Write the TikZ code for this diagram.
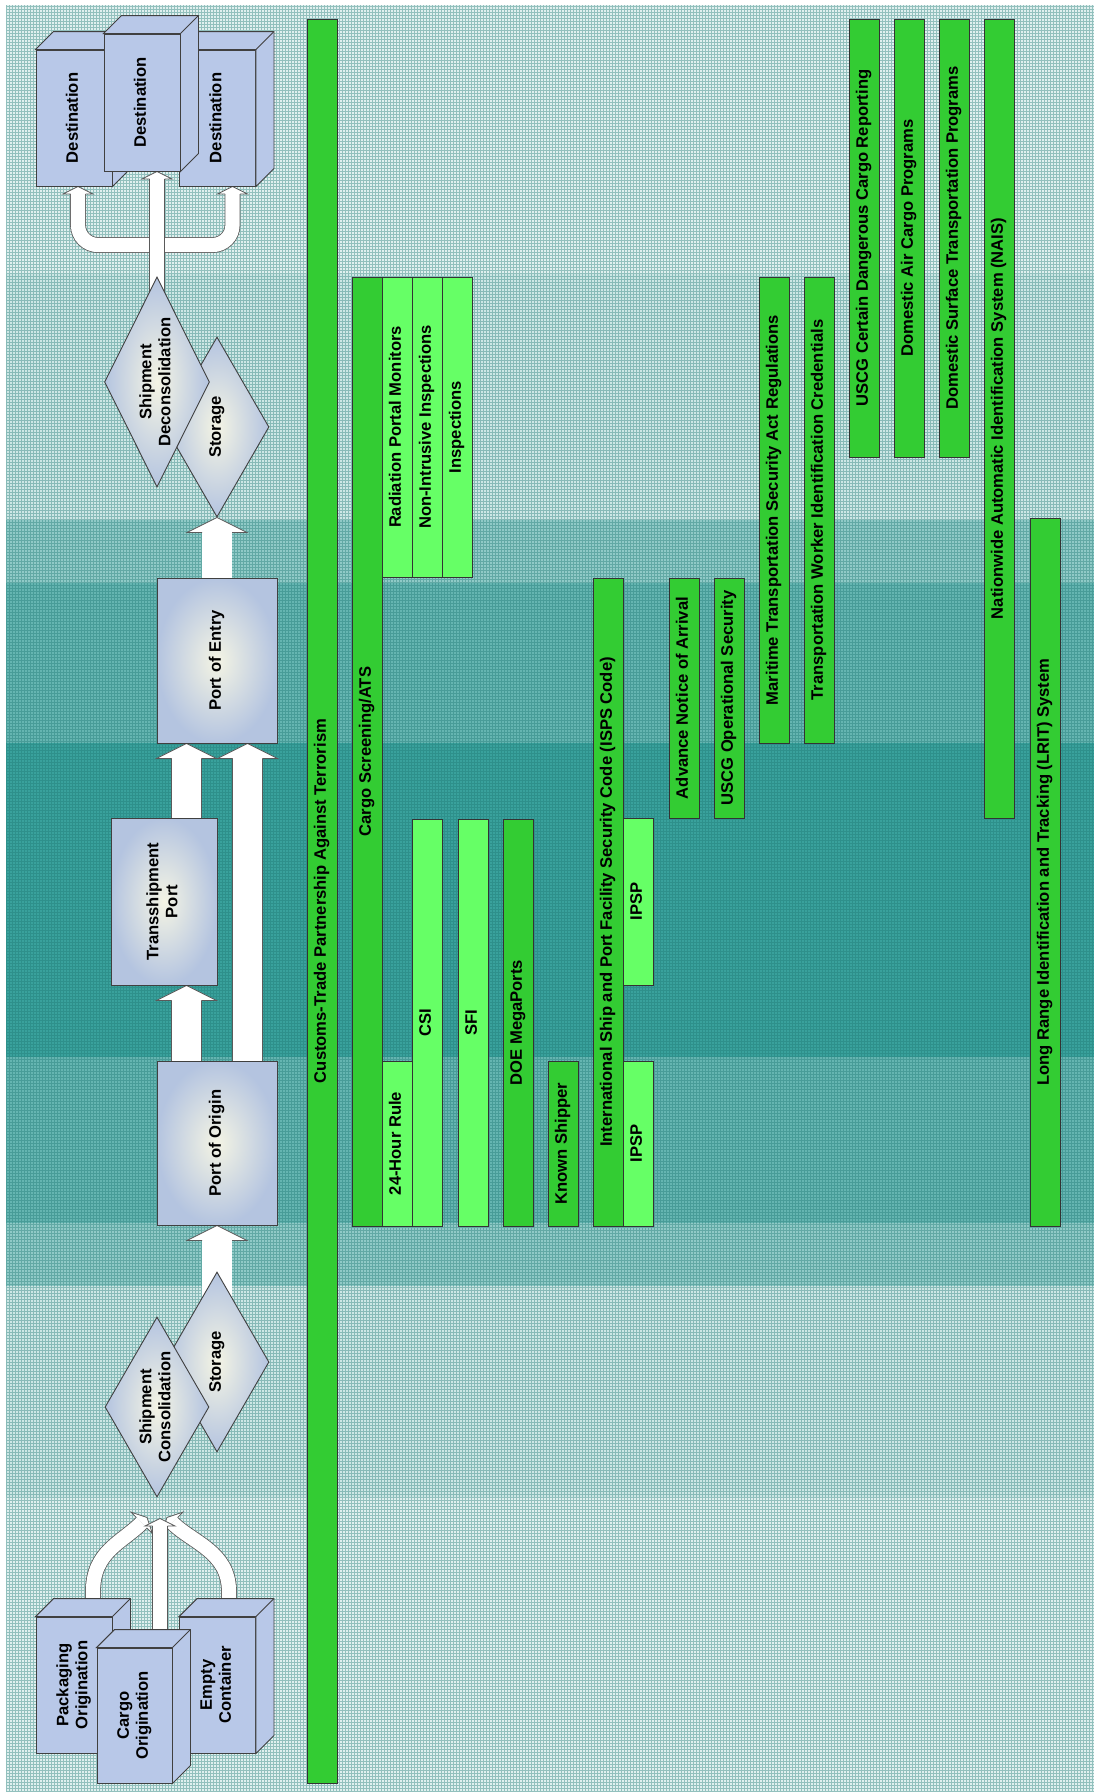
\documentclass[tikz,border=0pt]{standalone}
\usepackage{fontspec}
\setmainfont{Liberation Sans}
\usepackage{graphicx}
\usepackage{tikz}
\usetikzlibrary{calc, shapes.geometric}
\pgfdeclarelayer{paper}
\pgfdeclarelayer{flow}
\pgfsetlayers{paper,flow,main}
\definecolor{tealbg}{RGB}{14,140,134}
\definecolor{tealline}{RGB}{30,120,115}
\definecolor{bardark}{RGB}{51,204,51}
\definecolor{barlight}{RGB}{102,255,102}
\definecolor{crateblue}{RGB}{184,200,232}
\definecolor{steelblue}{RGB}{180,196,224}
\definecolor{paleyellow}{RGB}{244,244,228}
\definecolor{arrowgray}{RGB}{90,90,90}
\newcommand{\vtext}[1]{\rotatebox{90}{\begin{tabular}{@{}c@{}}#1\end{tabular}}}
\newcommand{\cratefaces}[1]{%
  \draw[crate] (#1.north west) -- ++(18,-18) -- ($(#1.north east)+(18,-18)$)
    -- ($(#1.south east)+(18,-18)$) -- (#1.south east) -- (#1.north east) -- cycle;
  \draw[crate] (#1.north east) -- ++(18,-18);}

\begin{document}
\begin{tikzpicture}[x=1pt, y=-1pt,
    font=\fontsize{16.6}{19}\selectfont\bfseries,
    crate/.style={draw=black!75, fill=crateblue, line width=0.9pt},
    cratefront/.style={crate, inner sep=0pt, minimum width=76pt, minimum height=136pt},
    flowbox/.style={draw=black!75, line width=0.9pt, inner sep=0pt,
                    inner color=paleyellow, outer color=steelblue},
    dia/.style={diamond, aspect=0.5, draw=black!75, line width=0.9pt, inner sep=-8pt,
                inner color=paleyellow, outer color=steelblue, minimum width=104pt},
    bar/.style={draw=black!80, line width=0.9pt, inner sep=0pt, minimum width=30pt},
    darkbar/.style={bar, fill=bardark},
    lightbar/.style={bar, fill=barlight},
    fatshaft/.style={draw=arrowgray, line width=0.8pt, double=white, double distance=29.2pt},
    thinshaft/.style={fatshaft, double distance=14.2pt},
    fathead/.pic={\path[fill=white, draw=arrowgray, line width=0.8pt]
       (-15,15) -- (-30,15) -- (0,0) -- (30,15) -- (15,15);}
  ]
  \useasboundingbox (0,0) rectangle (1094,1792);

  % paper with the bands
  \begin{pgfonlayer}{paper}
    \fill[white] (0,0) rectangle (1094,1792);
    \foreach \ya/\yb/\pc in {5/274/13, 274/520/21, 520/583/46, 583/743/64, 743/1057/82,
                             1057/1223/64, 1223/1286/46, 1286/1497/21, 1497/1792/13}
      \fill[tealbg!\pc!white] (6,\ya) rectangle (1094,\yb);
    \draw[tealline, opacity=0.4, line width=0.6pt] (6,1792) grid[step=3pt] (1094,5);
  \end{pgfonlayer}

  % shipping chain
  \node[dia, minimum height=180pt] (storeUp) at (217,427) {\vtext{Storage}};
  \node[dia, minimum width=105pt, minimum height=210pt] (decon) at (157,382) {\vtext{Shipment\\Deconsolidation}};
  \node[dia, minimum height=180pt] (storeLow) at (217,1362) {\vtext{Storage}};
  \node[dia, minimum height=180pt] (consol) at (157,1407) {\vtext{Shipment\\Consolidation}};

  \node[flowbox, minimum width=120pt, minimum height=165pt] (entry) at (217,660.5) {\vtext{Port of Entry}};
  \node[flowbox, minimum width=106pt, minimum height=167pt] (trans) at (164,901.5) {\vtext{Transshipment\\Port}};
  \node[flowbox, minimum width=120pt, minimum height=164pt] (origin) at (217,1143) {\vtext{Port of Origin}};

  \node[cratefront] (destL) at (74,118) {\vtext{Destination}};
  \cratefaces{destL}
  \node[cratefront] (destR) at (217.5,118) {\vtext{Destination}};
  \cratefaces{destR}
  \node[cratefront, minimum height=137pt] (destM) at (142,102.5) {\vtext{Destination}};
  \cratefaces{destM}

  \node[cratefront] (pack) at (74,1685) {\vtext{Packaging\\Origination}};
  \cratefaces{pack}
  \node[cratefront] (empty) at (217.5,1685) {\vtext{Empty\\Container}};
  \cratefaces{empty}
  \node[cratefront, minimum width=75pt, minimum height=135pt] (cargo) at (134.5,1715.5) {\vtext{Cargo\\Origination}};
  \cratefaces{cargo}

  % broad arrows
  \begin{pgfonlayer}{flow}
    \draw[fatshaft] (storeLow.center) -- ($(origin.south)+(0,15)$);
    \pic at (origin.south) {fathead};
    \draw[fatshaft] ($(origin.north)+(-30.5,0)$) -- ($(trans.south)+(22.5,15)$);
    \pic at ($(trans.south)+(22.5,0)$) {fathead};
    \draw[fatshaft] ($(origin.north)+(30.5,0)$) -- ($(entry.south)+(30.5,15)$);
    \pic at ($(entry.south)+(30.5,0)$) {fathead};
    \draw[fatshaft] ($(trans.north)+(22.5,0)$) -- ($(entry.south)+(-30.5,15)$);
    \pic at ($(entry.south)+(-30.5,0)$) {fathead};
    \draw[fatshaft] (entry.north) -- ($(storeUp.south)+(0,15)$);
    \pic at (storeUp.south) {fathead};

    \coordinate (fork) at ($(decon.north)+(0,-31.5)$);
    \draw[thinshaft, rounded corners=20pt] ($(destL.south)+(4,7.5)$) |- (fork) -| ($(destR.south)+(15,7.5)$);
    \pic[scale=0.5] at ($(destL.south)+(4,0)$) {fathead};
    \pic[scale=0.5] at ($(destR.south)+(15,0)$) {fathead};
    \draw[thinshaft] (decon.center) -- ($(destM.south)+(15,7.5)$);
    \pic[scale=0.5] at ($(destM.south)+(15,0)$) {fathead};

    \coordinate (tipL) at ($(consol.south)+(-10,20)$);
    \coordinate (tipR) at ($(consol.south)+(10,20)$);
    \draw[thinshaft] ($(pack.north)+(19,0)$) -- ++(0,-25) .. controls +(0,-40) and +(-20,20) .. ($(tipL)+(-5.3,5.3)$);
    \pic[scale=0.5, rotate=-45] at (tipL) {fathead};
    \draw[thinshaft] ($(empty.north)+(11.5,0)$) -- ++(0,-25) .. controls +(0,-40) and +(20,20) .. ($(tipR)+(5.3,5.3)$);
    \pic[scale=0.5, rotate=45] at (tipR) {fathead};
    \draw[thinshaft] ($(cargo.north)+(25.5,0)$) -- ($(consol.south)+(3,28.5)$);
    \pic[scale=0.5] at ($(consol.south)+(3,21)$) {fathead};
  \end{pgfonlayer}

  % programmes
  \node[darkbar, minimum height=1764pt] (ctpat) at (322,901) {\vtext{Customs-Trade Partnership Against Terrorism}};
  \node[darkbar, minimum height=949pt] (screen) at (367,751.5) {\vtext{Cargo Screening/ATS}};
  \node[lightbar, minimum height=300pt] (rpm) at (397,427) {\vtext{Radiation Portal Monitors}};
  \node[lightbar, minimum height=300pt] (nii) at (427,427) {\vtext{Non-Intrusive Inspections}};
  \node[lightbar, minimum height=300pt] (insp) at (457,427) {\vtext{Inspections}};
  \node[lightbar, minimum height=165pt] (hour) at (397,1143.5) {\vtext{24-Hour Rule}};
  \node[lightbar, minimum height=407pt] (csi) at (427,1022.5) {\vtext{CSI}};
  \node[lightbar, minimum height=407pt] (sfi) at (473,1022.5) {\vtext{SFI}};
  \node[darkbar, minimum height=407pt] (doe) at (518,1022.5) {\vtext{DOE MegaPorts}};
  \node[darkbar, minimum height=165pt] (known) at (563,1143.5) {\vtext{Known Shipper}};
  \node[darkbar, minimum height=648pt] (isps) at (608,902) {\vtext{International Ship and Port Facility Security Code (ISPS Code)}};
  \node[lightbar, minimum height=167pt] (ipspA) at (638,901.5) {\vtext{IPSP}};
  \node[lightbar, minimum height=165pt] (ipspB) at (638,1143.5) {\vtext{IPSP}};
  \node[darkbar, minimum height=240pt] (ana) at (684,698) {\vtext{Advance Notice of Arrival}};
  \node[darkbar, minimum height=240pt] (uscgops) at (729,698) {\vtext{USCG Operational Security}};
  \node[darkbar, minimum height=466pt] (mtsa) at (774,510) {\vtext{Maritime Transportation Security Act Regulations}};
  \node[darkbar, minimum height=466pt] (twic) at (819,510) {\vtext{Transportation Worker Identification Credentials}};
  \node[darkbar, minimum height=438pt] (cdc) at (864,238) {\vtext{USCG Certain Dangerous Cargo Reporting}};
  \node[darkbar, minimum height=438pt] (air) at (909,238) {\vtext{Domestic Air Cargo Programs}};
  \node[darkbar, minimum height=438pt] (surface) at (954,238) {\vtext{Domestic Surface Transportation Programs}};
  \node[darkbar, minimum height=799pt] (nais) at (999,418.5) {\vtext{Nationwide Automatic Identification System (NAIS)}};
  \node[darkbar, minimum height=708pt] (lrit) at (1045,872) {\vtext{Long Range Identification and Tracking (LRIT) System}};
\end{tikzpicture}
\end{document}
